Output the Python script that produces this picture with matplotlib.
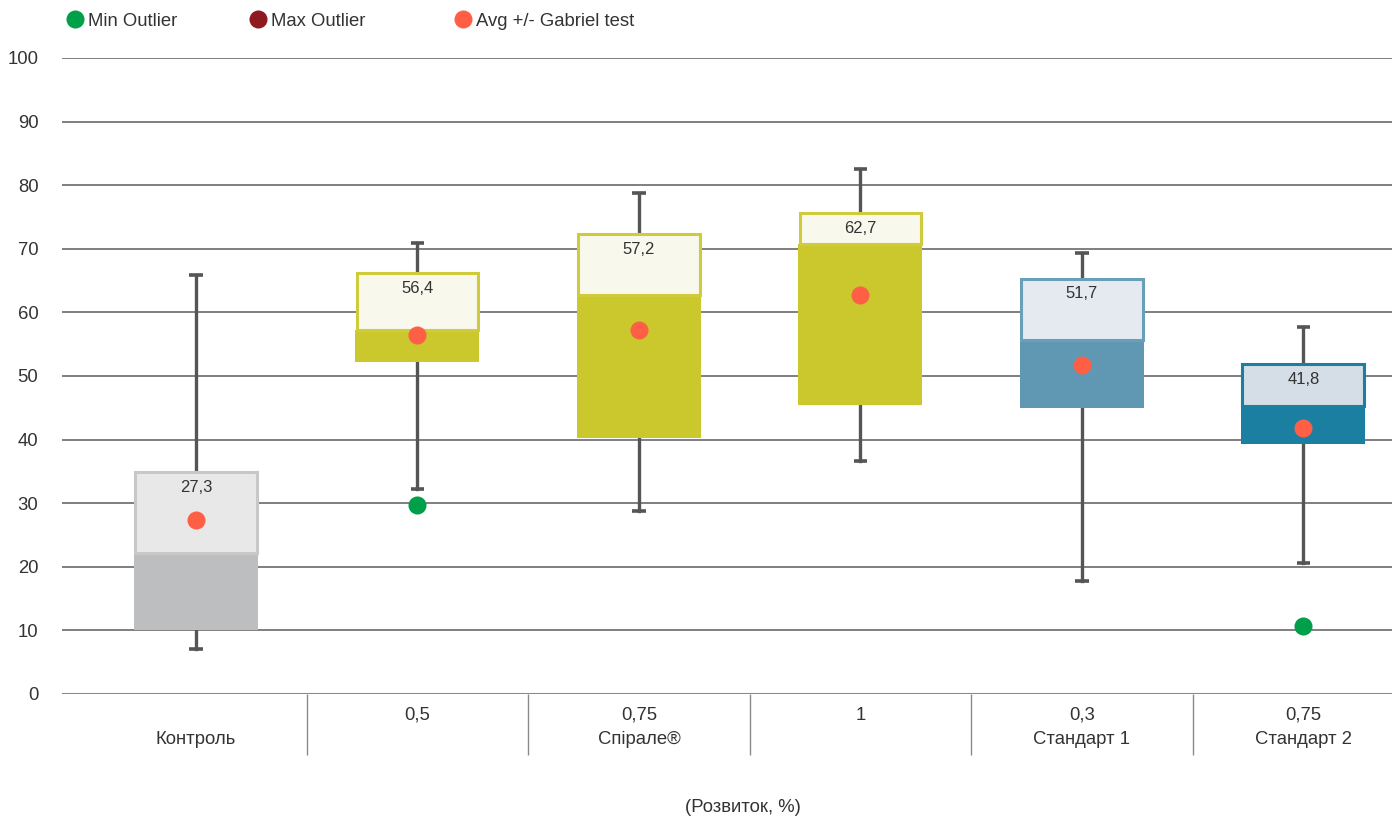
import numpy as np
import matplotlib.pyplot as plt
from matplotlib.lines import Line2D
from matplotlib.patches import Rectangle

plt.rcParams['font.family'] = ['Liberation Sans', 'DejaVu Sans']

# data
categories = ['\nКонтроль', '0,5\n', '0,75\nСпірале®', '1\n', '0,3\nСтандарт 1', '0,75\nСтандарт 2']
whisker_low = [7.1, 32.2, 28.8, 36.6, 17.8, 20.6]
q1 = [10.1, 52.2, 40.3, 45.4, 45.0, 39.3]
median = [22.2, 57.2, 62.7, 70.8, 55.7, 45.3]
q3 = [34.9, 66.2, 72.3, 75.6, 65.3, 51.9]
whisker_high = [65.9, 70.9, 78.8, 82.5, 69.3, 57.7]
means = [27.3, 56.4, 57.2, 62.7, 51.7, 41.8]
mean_labels = ['27,3', '56,4', '57,2', '62,7', '51,7', '41,8']
min_outliers = [None, 29.7, None, None, None, 10.7]

# colours: (lower part, upper part, border)
dark_cols = ['#bdbec0', '#cbc82e', '#cbc82e', '#cbc82e', '#6097b3', '#1a7fa0']
light_cols = ['#e8e8e8', '#f8f8ec', '#f8f8ec', '#f8f8ec', '#e4eaef', '#d5dee6']
edge_cols = ['#c8c8c8', '#cfcb3a', '#cfcb3a', '#cfcb3a', '#6a9fba', '#1a7fa0']

MEAN_COL = '#ff5f45'
MIN_COL = '#00a04a'
MAX_COL = '#8e1a1f'
WHISK_COL = '#555555'
TXT = '#333333'
FS = 13.3

fig = plt.figure(figsize=(13.92, 8.18), dpi=100)
ax = fig.add_axes([62 / 1392, 124 / 818, 1330 / 1392, 636 / 818])

x = np.arange(len(categories))
bw = 0.56
cap = 0.03

for i in x:
    ax.plot([i, i], [whisker_low[i], whisker_high[i]], color=WHISK_COL, lw=2.4, zorder=2)
    for v in (whisker_low[i], whisker_high[i]):
        ax.plot([i - cap, i + cap], [v, v], color=WHISK_COL, lw=2.6, zorder=2,
                solid_capstyle='butt')
    ax.add_patch(Rectangle((i - bw / 2, q1[i]), bw, median[i] - q1[i],
                           facecolor=dark_cols[i], edgecolor='none', zorder=3))
    ax.add_patch(Rectangle((i - bw / 2 + 0.005, median[i]), bw - 0.01, q3[i] - median[i],
                           facecolor=light_cols[i], edgecolor=edge_cols[i], lw=2.2, zorder=3))
    ax.plot(i, means[i], 'o', color=MEAN_COL, ms=13, mec='none', zorder=5)
    ax.text(i, q3[i] - 1.2, mean_labels[i], ha='center', va='top', fontsize=12,
            color=TXT, zorder=6)
    if min_outliers[i] is not None:
        ax.plot(i, min_outliers[i], 'o', color=MIN_COL, ms=13, mec='none', zorder=5)

ax.set_xlim(-0.605, 5.40)
ax.set_ylim(0, 100)
ax.set_yticks(np.arange(0, 101, 10))
ax.yaxis.grid(True, color='#6a6a6a', lw=1.2)
ax.set_axisbelow(True)
for s in ax.spines.values():
    s.set_visible(False)
ax.axhline(0, color='#8a8a8a', lw=2.2, zorder=1)

ax.tick_params(axis='y', length=0, labelsize=FS, labelcolor=TXT, pad=17)
ax.set_xticks(x)
ax.set_xticklabels(categories, fontsize=FS, color=TXT, linespacing=1.6)
ax.set_xticks(x[:-1] + 0.5, minor=True)
ax.tick_params(axis='x', which='major', length=0, pad=9)
ax.tick_params(axis='x', which='minor', length=44, width=1, color='#8a8a8a', direction='out')

fig.text(743 / 1392, 1 - 808 / 818, '(Розвиток, %)', ha='center', va='center',
         fontsize=FS, color=TXT)

# legend: one entry per block, placed like the reference header
legend_items = [(MIN_COL, 'Min Outlier', 64), (MAX_COL, 'Max Outlier', 247),
                (MEAN_COL, 'Avg +/- Gabriel test', 452)]
for col, lab, px in legend_items:
    h = Line2D([], [], marker='o', ls='none', color=col, ms=13, mec='none')
    fig.legend([h], [lab], loc='center left', bbox_to_anchor=(px / 1392, 1 - 21 / 818),
               frameon=False, fontsize=FS, handletextpad=0.1, handlelength=1.2,
               borderpad=0, borderaxespad=0, labelcolor=TXT)

fig.savefig('out.png', dpi=100)
